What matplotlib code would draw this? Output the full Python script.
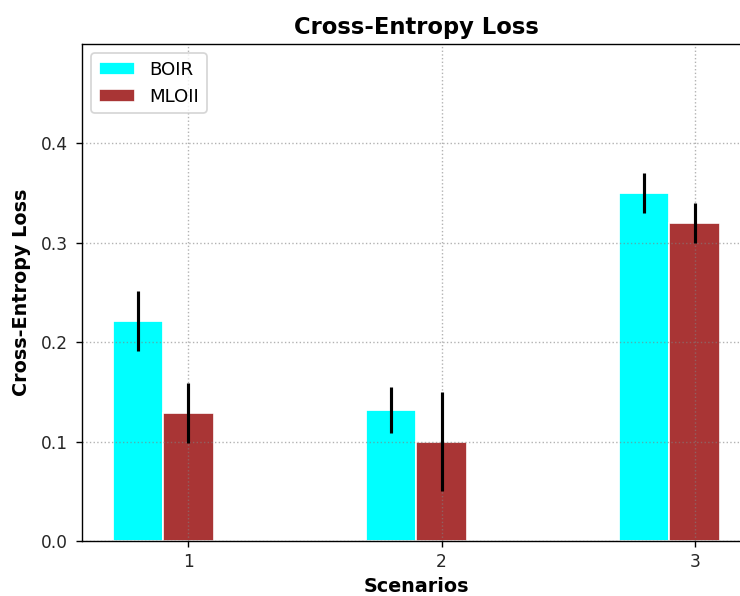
import numpy as np
import matplotlib
matplotlib.use('Agg')
import matplotlib.pyplot as plt

# Data
scenarios = [1, 2, 3]
boir_loss = [0.221, 0.132, 0.350]
boir_err = [0.030, 0.023, 0.020]
mloii_loss = [0.129, 0.100, 0.320]
mloii_err = [0.030, 0.050, 0.020]

width = 0.2
x = np.array(scenarios, dtype=float)

fig = plt.figure(figsize=(5.92, 4.768), dpi=125)
# axes runs slightly past the right edge, as in the reference
ax = fig.add_axes([0.111, 0.092, 0.903, 0.834])

ax.bar(x - width, boir_loss, width, yerr=boir_err, color='cyan',
       edgecolor='white', label='BOIR',
       error_kw=dict(ecolor='black', elinewidth=1.8, capsize=0))
ax.bar(x, mloii_loss, width, yerr=mloii_err, color='brown', alpha=0.95,
       edgecolor='white', label='MLOII',
       error_kw=dict(ecolor='black', elinewidth=1.8, capsize=0))

top = max(np.array(boir_loss) + boir_err) * 1.35
ax.set_ylim(0, top)
ax.set_xticks(scenarios)
ax.set_yticks([0.0, 0.1, 0.2, 0.3, 0.4])
ax.tick_params(labelsize=9.8, labelcolor='#262626')
ax.tick_params(axis='y', pad=4.5)

ax.set_title('Cross-Entropy Loss', fontsize=13, fontweight='bold')
ax.set_xlabel('Scenarios', fontsize=11, fontweight='bold', labelpad=3)
ax.set_ylabel('Cross-Entropy Loss', fontsize=11, fontweight='bold', labelpad=6)
ax.grid(True, linestyle=':', color='gray', alpha=0.6)
ax.legend(loc='upper left', fontsize=10.5)

fig.savefig('out.png', dpi=125)
